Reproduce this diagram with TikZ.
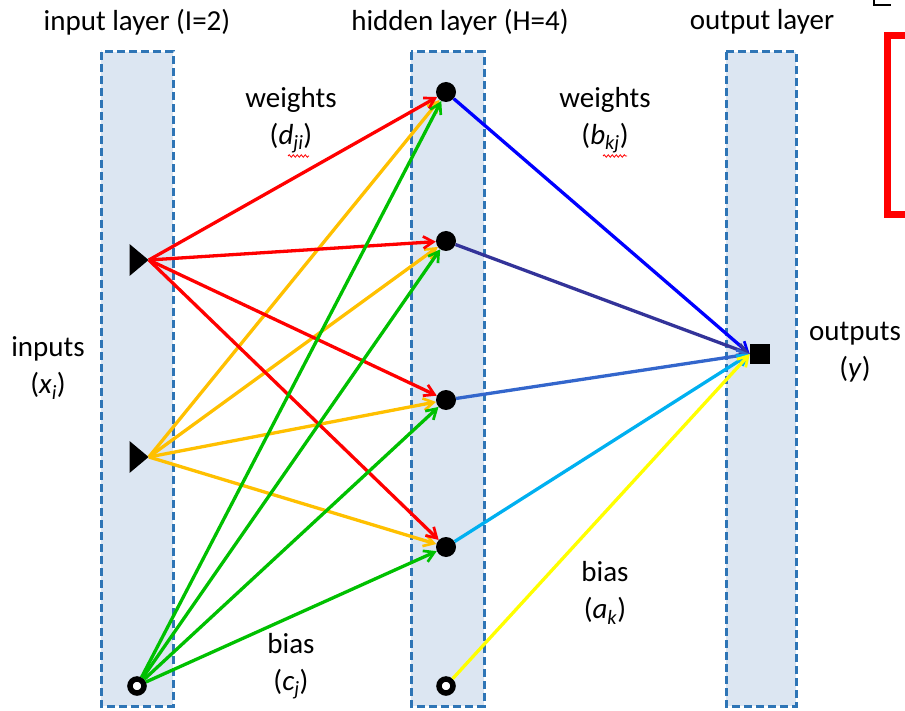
\documentclass[tikz,border=0pt]{standalone}
\usepackage{fontspec}
\setmainfont{Carlito}
\usetikzlibrary{shapes.geometric,arrows.meta,decorations.pathmorphing}
\definecolor{layerfill}{HTML}{DCE6F2}
\definecolor{layerdash}{HTML}{2E75B6}
\definecolor{cred}{HTML}{FF0000}
\definecolor{corange}{HTML}{FFC000}
\definecolor{cgreen}{HTML}{00C000}
\definecolor{cblue}{HTML}{0000FF}
\definecolor{cnavy}{HTML}{333399}
\definecolor{cmid}{HTML}{3366CC}
\definecolor{clight}{HTML}{00B0F0}
\definecolor{cyellow}{HTML}{FFFF00}
\newcommand{\vsub}[2]{\textit{#1}\textsubscript{\textit{#2}}}
\begin{document}
\begin{tikzpicture}[x=1pt,y=-1pt,
  layerbox/.style={draw=layerdash,fill=layerfill,line width=3pt,dash pattern=on 8pt off 4pt},
  lbl/.style={font=\fontsize{29}{35}\selectfont,align=center,inner sep=0pt},
  hnode/.style={circle,fill=black,minimum size=20pt,inner sep=0pt},
  bnode/.style={circle,draw=black,fill=white,line width=5.5pt,minimum size=14pt,inner sep=0pt},
  inode/.style={isosceles triangle,fill=black,minimum width=17pt,minimum height=19pt,inner sep=0pt,isosceles triangle apex angle=80,shape border rotate=0},
  onode/.style={rectangle,fill=black,minimum size=20pt,inner sep=0pt},
  conn/.style={line width=3.3pt,-{Straight Barb[length=10pt,width=12pt,line width=2.7pt]}},
  wavy/.style={draw=cred,line width=0.8pt,decorate,decoration={snake,amplitude=1.2pt,segment length=4pt}}
]
\useasboundingbox (0,0) rectangle (905,711);
% layers
\path[layerbox] (101,52) rectangle (173,706);
\path[layerbox] (411,52) rectangle (484,706);
\path[layerbox] (726,52) rectangle (796,706);
% titles
\node[lbl] (t1) at (137,22) {input layer (I=2)};
\node[lbl] (t2) at (460,22) {hidden layer (H=4)};
\node[lbl] (t3) at (762,22) {output layer};
% nodes
\node[inode] (i1) at (137,260) {};
\node[inode] (i2) at (137,457) {};
\node[bnode] (ib) at (137,686) {};
\node[hnode] (h1) at (446,92) {};
\node[hnode] (h2) at (446,241) {};
\node[hnode] (h3) at (446,400) {};
\node[hnode] (h4) at (446,547) {};
\node[bnode] (hb) at (446,686) {};
\node[onode] (o) at (760,354) {};
% input -> hidden
\foreach \h in {h1,h2,h3,h4}{
  \draw[conn,corange] (i2.apex) -- (\h);
}
\foreach \h in {h1,h2,h3,h4}{
  \draw[conn,cred] (i1.apex) -- (\h);
}
\foreach \h in {h1,h2,h3,h4}{
  \draw[conn,cgreen] (ib) -- (\h);
}
% hidden -> output
\draw[conn,cblue] (h1) -- (o.west);
\draw[conn,cnavy] (h2) -- (o.west);
\draw[conn,cmid] (h3) -- (o.west);
\draw[conn,clight] (h4) -- (o.west);
\draw[conn,cyellow] (hb) -- (o.west);
% labels
\node[lbl] (wd) at (291,120) {weights\\[2pt](\vsub{d}{ji})};
\node[lbl] (wb) at (605,120) {weights\\[2pt](\vsub{b}{kj})};
\node[lbl] (xin) at (48,368) {inputs\\[2pt](\vsub{x}{i})};
\node[lbl] (yout) at (855,352) {outputs\\[2pt](\textit{y})};
\node[lbl] (ba) at (605,593) {bias\\[2pt](\vsub{a}{k})};
\node[lbl] (bc) at (291,666) {bias\\[2pt](\vsub{c}{j})};
% spell-check underlines
\coordinate (wd1) at (288,156); \coordinate (wd2) at (309,156);
\draw[wavy] (wd1) -- (wd2);
\coordinate (wb1) at (603,156); \coordinate (wb2) at (627,156);
\draw[wavy] (wb1) -- (wb2);
% partial red box at right edge
\begin{scope}
\clip (0,0) rectangle (905,711);
\draw[cred,line width=7pt] (887,36) rectangle (930,215);
\draw[black,line width=2pt] (874,0) -- (874,5) -- (891,5);
\end{scope}
\end{tikzpicture}
\end{document}
